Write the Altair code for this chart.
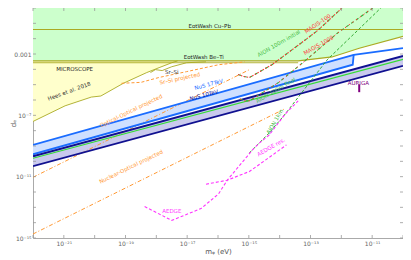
import altair as alt
import pandas as pd

# ---------------- data: log10 of m_phi [eV] and log10 of d_e ----------------
eotwash_cupb_d = -1.40
eotwash_beti_d = -3.45
microscope_d = -3.57

green_lower_m = [-22.0, -13.40, -12.30, -11.42, -10.0]
green_lower_d = [-3.45, -3.45, -3.19, -2.62, -1.85]

hees_m = [-22.0, -20.96, -20.11, -19.80, -19.07, -18.31, -17.91, -17.50, -17.31]
hees_d = [-7.40, -6.38, -5.81, -5.74, -4.91, -4.21, -3.89, -3.57, -3.45]

srsi_m = [-18.19, -18.03, -17.81, -17.50, -17.02, -16.39]
srsi_d = [-4.21, -4.02, -4.08, -3.83, -3.57, -3.51]

srsi_proj_m = [-19.13, -18.50, -17.91, -17.02, -15.98, -15.13]
srsi_proj_d = [-4.91, -4.85, -4.53, -4.15, -3.70, -3.51]

optopt_m = [-22.0, -15.0]
optopt_d = [-11.04, -4.04]

nucopt_m = [-22.0, -13.87]
nucopt_d = [-14.74, -6.61]

nus17_upper_m = [-22.0, -11.60, -10.0]
nus17_upper_d = [-8.93, -3.06, -2.62]
nus17_lower_m = [-22.0, -11.63, -11.60]
nus17_lower_d = [-9.54, -3.70, -3.06]

nus10_m = [-22.0, -10.0]
nus10_upper_d = [-9.67, -3.13]
nus10_lower_d = [-10.31, -3.77]
green_line_d = [-9.80, -3.35]

magis100_m = [-15.35, -15.17, -14.98, -14.25, -13.40, -12.77, -11.98]
magis100_d = [-4.34, -4.47, -4.53, -3.70, -2.43, -1.47, 0.0]
magis1000_m = [-15.29, -15.13, -14.98, -14.03, -13.18, -12.14, -10.98]
magis1000_d = [-5.93, -6.06, -6.06, -4.85, -3.45, -1.66, 0.0]
aion1km_m = [-14.98, -14.35, -13.81, -12.46, -10.72]
aion1km_d = [-9.44, -8.17, -6.89, -3.38, 0.0]

aedge_m = [-18.38, -17.50, -16.55, -15.98, -15.70, -15.04, -14.88, -14.66, -14.35, -13.81, -13.40]
aedge_d = [-12.95, -13.85, -13.08, -12.12, -11.23, -9.64, -9.25, -8.81, -8.30, -6.89, -6.06]
aedge_res_m = [-16.39, -15.70, -14.98, -14.44, -14.13, -13.78]
aedge_res_d = [-11.49, -11.23, -10.66, -9.89, -9.44, -8.93]

auriga_m = [-11.42, -11.42]
auriga_d = [-4.98, -5.49]

label_text = ["EotWash Cu\u2013Pb", "EotWash Be\u2013Ti", "MICROSCOPE", "Hees et al. 2018",
              "Sr\u2013Si", "Sr\u2013Si projected", "Optical-Optical projected",
              "Nuclear-Optical projected", "NuS 17TeV", "NuS 10TeV",
              "AION 100m initial", "MAGIS-100", "MAGIS-1000", "AION 100m final",
              "AION 1km", "AURIGA", "AEDGE", "AEDGE res."]
label_m = [-16.27, -16.46, -20.65, -20.83, -17.50, -17.24, -18.82, -18.82, -16.30, -16.46,
           -14.03, -12.77, -12.74, -14.13, -14.16, -11.45, -17.50, -14.28]
label_d = [-1.15, -3.19, -3.96, -5.42, -4.18, -4.59, -6.70, -10.34, -4.98, -5.68,
           -2.30, -1.02, -2.42, -5.36, -7.40, -4.91, -13.27, -9.06]
label_color = ["#222222", "#222222", "#222222", "#333333", "#333333", "#ff9933", "#ff9933",
               "#ff9933", "#1a6cff", "#101090", "#44bb44", "#ff4040", "#ff4040", "#44bb44",
               "#44bb44", "#800080", "#ff33ff", "#ff33ff"]
label_angle = [0, 0, 0, 340, 0, 348, 334, 334, 345, 345, 330, 326, 330, 330, 300, 0, 0, 330]

x_decades = list(range(-22, -9))
x_labels = {-21: "10\u207b\u00b2\u00b9", -19: "10\u207b\u00b9\u2079", -17: "10\u207b\u00b9\u2077",
            -15: "10\u207b\u00b9\u2075", -13: "10\u207b\u00b9\u00b3", -11: "10\u207b\u00b9\u00b9"}
y_decades = list(range(-15, 1))
y_labels = {-15: "10\u207b\u00b9\u2075", -11: "10\u207b\u00b9\u00b9", -7: "10\u207b\u2077", -3: "0.001"}

# ---------------- helpers ----------------
W, H = 370, 230


def p(v):
    return 10.0 ** v


def df(ms, ds):
    return pd.DataFrame({"m": [p(v) for v in ms], "d": [p(v) for v in ds], "i": list(range(len(ms)))})


def label_expr(mapping):
    e = "''"
    for k, t in mapping.items():
        e = f"abs(log(datum.value)/LN10 - ({k})) < 0.01 ? '{t}' : " + e
    return e


xs = alt.Scale(type="log", domain=[1e-22, 1e-10], nice=False)
ys = alt.Scale(type="log", domain=[1e-15, 1], nice=False)
X = alt.X("m:Q", scale=xs, axis=alt.Axis(values=[p(v) for v in x_decades], labelExpr=label_expr(x_labels),
                                         title="m\u1d69 (eV)", ticks=False, grid=False, labelFlush=False,
                                         labelPadding=2, titlePadding=1))
Y = alt.Y("d:Q", scale=ys, axis=alt.Axis(values=[p(v) for v in y_decades], labelExpr=label_expr(y_labels),
                                         title="d\u2091", ticks=False, grid=False, labelFlush=False,
                                         labelPadding=2, titleX=-24, titleY=H / 2, titleAngle=270,
                                         titleBaseline="top", titleAlign="center"))


def line(ms, ds, color, width=1.0, dash=None, opacity=1.0):
    kw = dict(color=color, strokeWidth=width, opacity=opacity, clip=True)
    if dash:
        kw["strokeDash"] = dash
    return alt.Chart(df(ms, ds)).mark_line(**kw).encode(x=X, y=Y, order="i:Q")


layers = []

# green EotWash region
g = df(green_lower_m, green_lower_d)
g["top"] = 1.0
layers.append(alt.Chart(g).mark_area(color="#ccffcc", clip=True).encode(x=X, y=Y, y2="top:Q"))
# yellow MICROSCOPE / Hees region
yel = df(hees_m, hees_d)
yel["top"] = p(eotwash_beti_d)
layers.append(alt.Chart(yel).mark_area(color="#ffffcc", clip=True).encode(x=X, y=Y, y2="top:Q"))

olive = "#aaaa22"
layers.append(line([-22, -10], [eotwash_cupb_d, eotwash_cupb_d], olive, 1.1))
layers.append(line(green_lower_m, green_lower_d, olive, 1.1))
layers.append(line([-22, -13.4], [microscope_d, microscope_d], olive, 0.9))
layers.append(line(hees_m, hees_d, olive, 0.9))
layers.append(line(srsi_m, srsi_d, olive, 0.9))

# NuS bands
b17 = pd.DataFrame({"m": [p(v) for v in [-22.0, -11.62]],
                    "lo": [p(v) for v in [nus17_lower_d[0], nus17_lower_d[1]]],
                    "hi": [p(v) for v in [nus17_upper_d[0], nus17_upper_d[1]]]})
layers.append(alt.Chart(b17).mark_area(color="#cfe0ff", clip=True).encode(x=X, y=alt.Y("lo:Q", scale=ys), y2="hi:Q"))
b10 = pd.DataFrame({"m": [p(v) for v in nus10_m], "lo": [p(v) for v in nus10_lower_d],
                    "hi": [p(v) for v in nus10_upper_d]})
layers.append(alt.Chart(b10).mark_area(color="#cacaee", clip=True).encode(x=X, y=alt.Y("lo:Q", scale=ys), y2="hi:Q"))

# orange clock projections
orange = "#ff9933"
layers.append(line(srsi_proj_m, srsi_proj_d, orange, 1.0, [3, 2]))
layers.append(line(optopt_m, optopt_d, orange, 1.0, [4, 2, 1, 2]))
layers.append(line(nucopt_m, nucopt_d, orange, 1.0, [4, 2, 1, 2]))

layers.append(line(nus17_upper_m, nus17_upper_d, "#1a6cff", 1.8))
layers.append(line(nus17_lower_m, nus17_lower_d, "#1a6cff", 1.8))
layers.append(line(nus10_m, nus10_upper_d, "#101090", 1.8))
layers.append(line(nus10_m, nus10_lower_d, "#101090", 1.8))
layers.append(line(nus10_m, green_line_d, "#33dd33", 1.1))

# atom interferometers
aion_green = "#33aa33"
layers.append(line(magis100_m, magis100_d, aion_green, 1.1, [3, 3]))
layers.append(line(magis100_m, magis100_d, "#ff3333", 1.1, [1.5, 1.5]))
layers.append(line(magis1000_m, magis1000_d, aion_green, 1.1, [3, 3]))
layers.append(line(magis1000_m, magis1000_d, "#ff3333", 1.0, [1.5, 3]))
layers.append(line(aion1km_m, aion1km_d, aion_green, 1.0, [3, 2]))
layers.append(line(aedge_m, aedge_d, "#ff33ff", 1.1, [3, 2]))
layers.append(line(aedge_res_m, aedge_res_d, "#ff33ff", 1.1, [3, 2]))
layers.append(line(auriga_m, auriga_d, "#800080", 2.0))

# labels
lab = pd.DataFrame({"m": [p(v) for v in label_m], "d": [p(v) for v in label_d], "t": label_text,
                    "c": label_color, "a": label_angle})
layers.append(alt.Chart(lab).mark_text(fontSize=5.5, font="DejaVu Sans").encode(
    x=X, y=Y, text="t:N", color=alt.Color("c:N", scale=None), angle=alt.Angle("a:Q", scale=None)))

# inward frame ticks
xt = pd.DataFrame({"m": [p(v) for v in x_decades]})
yt = pd.DataFrame({"d": [p(v) for v in y_decades]})
tc = "#999999"
layers.append(alt.Chart(xt).mark_rule(color=tc, strokeWidth=0.8).encode(x=X, y=alt.value(0), y2=alt.value(3)))
layers.append(alt.Chart(xt).mark_rule(color=tc, strokeWidth=0.8).encode(x=X, y=alt.value(H), y2=alt.value(H - 3)))
layers.append(alt.Chart(yt).mark_rule(color=tc, strokeWidth=0.8).encode(y=Y, x=alt.value(0), x2=alt.value(3)))
layers.append(alt.Chart(yt).mark_rule(color=tc, strokeWidth=0.8).encode(y=Y, x=alt.value(W), x2=alt.value(W - 3)))

chart = alt.layer(*layers).properties(
    width=W, height=H, autosize=alt.AutoSizeParams(type="none"),
    padding={"left": 25, "top": 0, "right": 0, "bottom": 22},
).configure_view(stroke="#aaaaaa", strokeWidth=1).configure_axis(
    domain=False, labelColor="#666666", labelFontSize=6, labelFont="DejaVu Sans",
    titleColor="#555555", titleFontSize=7, titleFont="DejaVu Sans", titleFontWeight="normal"
)

chart.save("out.html", embed_options={"renderer": "svg", "actions": False})
